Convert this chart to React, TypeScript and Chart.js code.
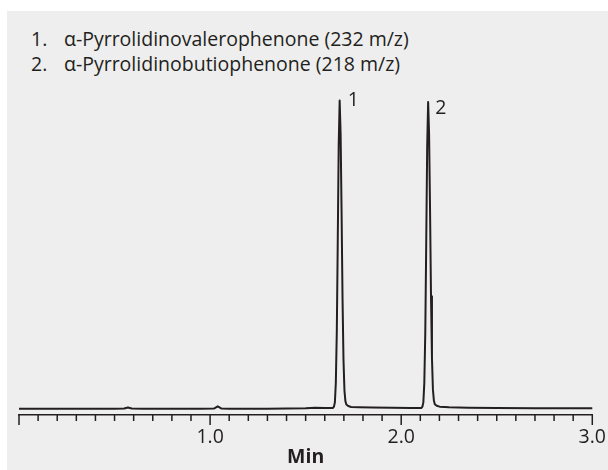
import React, { useEffect, useRef } from "react";
import { Chart, registerables } from "chart.js";

Chart.register(...registerables);

// Retention time (min)
const times = [
  0.0, 0.1, 0.2, 0.3, 0.4, 0.5, 0.55, 0.57, 0.59, 0.65, 0.8, 0.95, 1.02, 1.04, 1.06, 1.1, 1.2, 1.3, 1.4,
  1.5, 1.55, 1.6, 1.63, 1.643, 1.648, 1.653, 1.658, 1.663, 1.668, 1.673, 1.678, 1.683, 1.688, 1.693,
  1.698, 1.703, 1.708, 1.713, 1.723, 1.738, 1.78, 1.85, 1.95, 2.05, 2.09, 2.106, 2.111, 2.116, 2.121,
  2.126, 2.131, 2.136, 2.141, 2.146, 2.151, 2.156, 2.161, 2.166, 2.171, 2.176, 2.186, 2.201, 2.25,
  2.35, 2.5, 2.7, 2.85, 3.0,
];
// Detector signal (relative)
const signal = [
  0.0, 0.05, 0.0, 0.05, 0.0, 0.05, 0.1, 0.45, 0.1, 0.0, 0.05, 0.0, 0.1, 0.8, 0.1, 0.0, 0.05, 0.05, 0.1,
  0.2, 0.35, 0.3, 0.25, 0.3, 0.7, 2.1, 8.5, 24.9, 54, 85.7, 100, 89, 64, 36,
  16, 6, 2.5, 1.4, 0.9, 0.6, 0.5, 0.4, 0.35, 0.3, 0.25, 0.3, 0.7, 2.1, 8.4,
  24.5, 53.5, 85, 99.5, 89, 64.5, 36.5, 16.5, 6.3, 2.7, 1.5, 1.0, 0.7, 0.5,
  0.35, 0.25, 0.2, 0.15, 0.15,
];

const peakNames = ["1", "2"];
const peakTimes = [1.678, 2.141];
const peakHeights = [100, 99.5];

const compoundNumbers = ["1.", "2."];
const compoundNames = [
  "α-Pyrrolidinovalerophenone (232 m/z)",
  "α-Pyrrolidinobutiophenone (218 m/z)",
];

const axisLabelValues = [1.0, 2.0, 3.0];
const xTitle = "Min";

const INK = "#231f20";
const FONT = "'Open Sans', sans-serif";
const FS = 19.5;

export default function App() {
  const ref = useRef<HTMLCanvasElement>(null);

  useEffect(() => {
    const canvas = ref.current;
    if (!canvas) return;

    const tickMarks = {
      id: "tickMarks",
      afterDraw(chart: any) {
        const s = chart.scales.x;
        const c = chart.ctx;
        c.save();
        c.strokeStyle = INK;
        c.lineWidth = 1.5;
        s.ticks.forEach((t: any) => {
          const px = s.getPixelForValue(t.value);
          const major = Math.abs(t.value - Math.round(t.value)) < 1e-6;
          c.beginPath();
          c.moveTo(px, s.top);
          c.lineTo(px, s.top + (major ? 10 : 6));
          c.stroke();
        });
        c.restore();
      },
    };

    const peakOffsets = [
      { dx: 8, dy: 5.5 },
      { dx: 7, dy: 12 },
    ];

    const peakLabels = {
      id: "peakLabels",
      afterDatasetsDraw(chart: any) {
        const xs = chart.scales.x;
        const ys = chart.scales.y;
        const c = chart.ctx;
        c.save();
        c.fillStyle = INK;
        c.font = `${FS}px ${FONT}`;
        c.textAlign = "left";
        c.textBaseline = "alphabetic";
        peakNames.forEach((name, i) => {
          const px = xs.getPixelForValue(peakTimes[i]);
          const py = ys.getPixelForValue(peakHeights[i]);
          c.fillText(name, px + peakOffsets[i].dx, py + peakOffsets[i].dy);
        });
        c.restore();
      },
    };

    const chart = new Chart(canvas, {
      type: "line",
      data: {
        datasets: [
          {
            data: times.map((t, i) => ({ x: t, y: signal[i] })),
            borderColor: INK,
            borderWidth: 2,
            borderJoinStyle: "round",
            borderCapStyle: "round",
            pointRadius: 0,
            tension: 0,
            fill: false,
          },
        ],
      },
      options: {
        responsive: false,
        maintainAspectRatio: false,
        animation: false,
        events: [],
        layout: { padding: { left: 19, right: 13, top: 85, bottom: 5.85 } },
        plugins: {
          legend: { display: false },
          tooltip: { enabled: false },
        },
        scales: {
          x: {
            type: "linear",
            min: 0,
            max: 3,
            ticks: {
              stepSize: 0.1,
              autoSkip: false,
              maxRotation: 0,
              minRotation: 0,
              color: INK,
              padding: 2,
              font: { family: FONT, size: FS, lineHeight: 1.1 },
              callback: (v: any) => {
                const n = Number(v);
                const hit = axisLabelValues.find((a) => Math.abs(a - n) < 1e-6);
                return hit !== undefined ? hit.toFixed(1) : "";
              },
            },
            grid: {
              display: true,
              drawOnChartArea: false,
              drawTicks: true,
              tickLength: 10,
              tickColor: "rgba(0,0,0,0)",
            },
            border: { display: true, color: INK, width: 1.5 },
            title: {
              display: true,
              text: xTitle,
              color: INK,
              font: { family: FONT, size: FS, weight: "bold", lineHeight: 0.703 },
              padding: { top: 0, bottom: 0 },
            },
          },
          y: {
            display: false,
            min: -2,
            max: 105,
          },
        },
      },
      plugins: [tickMarks, peakLabels],
    });

    return () => chart.destroy();
  }, []);

  return (
    <div
      style={{
        position: "fixed",
        left: 0,
        top: 0,
        width: 608,
        height: 470,
        background: "#ffffff",
        overflow: "hidden",
      }}
    >
      <div
        style={{
          position: "absolute",
          left: 7,
          top: 11,
          right: 0,
          bottom: 0,
          background: "#eeeeee",
        }}
      />
      <div
        style={{
          position: "absolute",
          left: 0,
          top: 26.4,
          fontFamily: FONT,
          fontSize: FS,
          lineHeight: "25px",
          color: INK,
          whiteSpace: "nowrap",
        }}
      >
        {compoundNames.map((name, i) => (
          <div key={i} style={{ position: "relative", height: 25 }}>
            <span style={{ position: "absolute", left: 31 }}>{compoundNumbers[i]}</span>
            <span style={{ position: "absolute", left: 64 }}>{name}</span>
          </div>
        ))}
      </div>
      <canvas
        ref={ref}
        width={608}
        height={470}
        style={{ position: "absolute", left: 0, top: 0, width: 608, height: 470 }}
      />
    </div>
  );
}
